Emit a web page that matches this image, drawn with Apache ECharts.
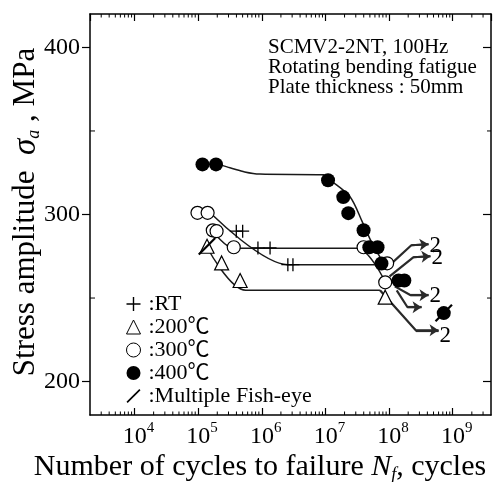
<!DOCTYPE html>
<html>
<head>
<meta charset="utf-8">
<script src="https://cdn.jsdelivr.net/npm/echarts@6/dist/echarts.min.js"></script>
<style>
  html, body { margin: 0; padding: 0; background: #fff; }
  #chart { width: 496px; height: 482px; }
</style>
</head>
<body>
<div id="chart"></div>
<script>
var FONT = "'Liberation Serif', 'Times New Roman', 'Noto Sans CJK JP', serif";

// specimens: [cycles to failure, stress amplitude MPa]
var rtPoints = [[3.98e5, 290], [5.01e5, 290], [8.71e5, 280], [1.35e6, 280], [2.57e6, 270], [3.09e6, 270]];
var t200Points = [[1.38e5, 281], [2.34e5, 271], [4.57e5, 260.5], [8.7e7, 250.5]];
var t300Points = [[9.77e4, 301], [1.41e5, 301], [1.70e5, 290.5], [1.95e5, 290], [3.63e5, 280.4],
  [3.98e7, 280.4], [9.33e7, 270.8], [8.71e7, 259.4]];
var t400Points = [[1.17e5, 330], [1.91e5, 330], [1.10e7, 320.5], [1.91e7, 310.4], [2.29e7, 300.8],
  [3.98e7, 290.6], [4.9e7, 280.4], [6.6e7, 280.4], [7.6e7, 270.7], [1.41e8, 260.5], [1.74e8, 260.5],
  [7.24e8, 241]];
var fishEyePoints = [[1.38e5, 281], [7.24e8, 241]];

// S-N curves
var rtCurve = [[1.70e5, 299.5], [2.57e6, 270], [7.2e7, 270]];
var t200Curve = [[1.38e5, 280.4], [5.6e5, 254.7], [7.2e7, 254.7]];
var t300Curve = [[1.70e5, 290], [3.63e5, 279.8], [3.16e7, 279.8], [8.1e7, 262]];
var t400Curve = [[1.17e5, 330.1], [1.91e5, 330], [3.16e5, 328], [5.4e5, 325.5], [9.3e5, 324.2],
  [9.3e6, 323.8], [1.2e7, 320.5], [2.45e7, 310.5], [3.8e7, 295.6], [5.1e7, 284.8], [6.2e7, 278.9],
  [8.1e7, 271]];

// run-out arrows and their specimen counts
var runouts = [
  { path: [[9.1e7, 267.9], [2.24e8, 281.6], [4.17e8, 282.2]], count: '2', shift: 2 },
  { path: [[1.02e8, 263], [2.4e8, 274.4], [4.47e8, 275]], count: '2', shift: 2 },
  { path: [[1.23e8, 257], [2.19e8, 251.7], [4.17e8, 251.7]], count: '2', shift: 1 },
  { path: [[1.32e8, 254.6], [1.95e8, 244.5], [3.24e8, 244.5]], count: '', shift: 0 },
  { path: [[7.2e7, 254.7], [2.63e8, 230.7], [6.0e8, 230.7]], count: '2', shift: 6 }
];

var yLabels = [200, 300, 400];
var yMinor = [250, 350];
var minorMult = [2, 3, 4, 5, 6, 7, 8, 9];
var decades = [1e3, 1e4, 1e5, 1e6, 1e7, 1e8, 1e9];
var X_MIN = 2e3, X_MAX = 4e9, Y_MIN = 180, Y_MAX = 420;

var xMinor = [];
decades.forEach(function (d) {
  minorMult.forEach(function (m) {
    var v = d * m;
    if (v > X_MIN && v < X_MAX) xMinor.push([v, Y_MIN]);
  });
});

var crossPath = 'path://M6.3,0h1.4v6.3h6.3v1.4h-6.3v6.3h-1.4v-6.3h-6.3v-1.4h6.3z';
var slashPath = 'path://M0,12.8L12.8,0L14,1.2L1.2,14Z';

var chart = echarts.init(document.getElementById('chart'));

function powLabel(v) {
  var l = Math.log(v) / Math.LN10;
  var e = Math.round(l);
  if (Math.abs(l - e) > 1e-6) return '';
  return '{p|}{b|10}{s|' + e + '}';
}

var frameLine = { show: true, lineStyle: { color: '#000', width: 1.5 } };

var series = [];

function curve(data) {
  return {
    type: 'line', data: data, symbol: 'none', smooth: 0.3, silent: true, z: 1,
    lineStyle: { color: '#1a1a1a', width: 1.5 }
  };
}
series.push(curve(rtCurve), curve(t200Curve), curve(t300Curve), curve(t400Curve));

runouts.forEach(function (r) {
  series.push({
    type: 'line', data: r.path, symbol: 'none', silent: true, z: 1,
    lineStyle: { color: '#2a2a2a', width: 2.2 },
    endLabel: {
      show: r.count !== '', formatter: r.count, distance: 1, offset: [0, r.shift],
      fontFamily: FONT, fontSize: 23, color: '#000'
    }
  });
  var n = r.path.length;
  series.push({
    type: 'lines', coordinateSystem: 'cartesian2d', silent: true, z: 1,
    symbol: ['none', 'arrow'], symbolSize: 9,
    lineStyle: { color: '#2a2a2a', width: 2.2, opacity: 1 },
    data: [{ coords: [r.path[n - 2], r.path[n - 1]] }]
  });
});

series.push({
  name: 'RT', type: 'scatter', data: rtPoints, symbol: crossPath, symbolSize: 13, z: 3,
  itemStyle: { color: '#000', opacity: 1 }
});
series.push({
  name: '200℃', type: 'scatter', data: t200Points, symbol: 'triangle', symbolSize: 14, z: 3,
  itemStyle: { color: '#fff', borderColor: '#000', borderWidth: 1.2, opacity: 1 }
});
series.push({
  name: '300℃', type: 'scatter', data: t300Points, symbol: 'circle', symbolSize: 13, z: 3,
  itemStyle: { color: '#fff', borderColor: '#000', borderWidth: 1.2, opacity: 1 }
});
series.push({
  name: '400℃', type: 'scatter', data: t400Points, symbol: 'circle', symbolSize: 14, z: 4,
  itemStyle: { color: '#000', opacity: 1 }
});
series.push({
  name: 'Multiple Fish-eye', type: 'scatter', data: fishEyePoints, symbol: slashPath, symbolSize: 18, z: 5,
  itemStyle: { color: '#000', opacity: 1 }
});

// minor ticks on the log axis (bottom and top) and on the stress axis (left and right)
series.push({
  type: 'custom', data: xMinor, silent: true, z: 6,
  renderItem: function (params, api) {
    var pb = api.coord([api.value(0), Y_MIN]);
    var pt = api.coord([api.value(0), Y_MAX]);
    var st = { stroke: '#000', lineWidth: 1 };
    return {
      type: 'group', children: [
        { type: 'line', shape: { x1: pb[0], y1: pb[1], x2: pb[0], y2: pb[1] - 3.5 }, style: st },
        { type: 'line', shape: { x1: pt[0], y1: pt[1], x2: pt[0], y2: pt[1] + 3.5 }, style: st }
      ]
    };
  }
});
series.push({
  type: 'custom', data: yMinor.map(function (v) { return [X_MIN, v]; }), silent: true, z: 6,
  renderItem: function (params, api) {
    var p = api.coord([X_MIN, api.value(1)]);
    var q = api.coord([X_MAX, api.value(1)]);
    var st = { stroke: '#000', lineWidth: 1 };
    return {
      type: 'group', children: [
        { type: 'line', shape: { x1: p[0], y1: p[1], x2: p[0] + 5, y2: p[1] }, style: st },
        { type: 'line', shape: { x1: q[0], y1: q[1], x2: q[0] - 4, y2: q[1] }, style: st }
      ]
    };
  }
});

chart.setOption({
  animation: false,
  backgroundColor: '#fff',
  grid: { left: 90, right: 5, top: 14, bottom: 67 },
  xAxis: [{
    type: 'log', logBase: 10, min: X_MIN, max: X_MAX, position: 'bottom',
    axisLine: frameLine,
    axisTick: { inside: true, length: 7, lineStyle: { color: '#000', width: 1.2 } },
    axisLabel: {
      formatter: powLabel, margin: 6, showMinLabel: false, showMaxLabel: false,
      rich: {
        p: { width: 8 },
        b: { fontFamily: FONT, fontSize: 24, color: '#000', lineHeight: 28, verticalAlign: 'bottom' },
        s: { fontFamily: FONT, fontSize: 15, color: '#000', lineHeight: 14, verticalAlign: 'top' }
      }
    },
    splitLine: { show: false }
  }, {
    type: 'log', logBase: 10, min: X_MIN, max: X_MAX, position: 'top',
    axisLine: frameLine,
    axisTick: { inside: true, length: 7, lineStyle: { color: '#000', width: 1.2 } },
    axisLabel: { show: false },
    splitLine: { show: false }
  }],
  yAxis: [{
    type: 'value', min: Y_MIN, max: Y_MAX, position: 'left',
    axisLine: frameLine,
    axisTick: { customValues: yLabels, length: 8, lineStyle: { color: '#000', width: 1.2 } },
    axisLabel: { customValues: yLabels, margin: 10, fontFamily: FONT, fontSize: 24, color: '#000' },
    splitLine: { show: false }
  }, {
    type: 'value', min: Y_MIN, max: Y_MAX, position: 'right',
    axisLine: frameLine,
    axisTick: { inside: true, customValues: yLabels, length: 8, lineStyle: { color: '#000', width: 1.2 } },
    axisLabel: { show: false },
    splitLine: { show: false }
  }],
  legend: {
    orient: 'vertical', left: 121, top: 288, itemGap: 1, itemWidth: 14, itemHeight: 14,
    selectedMode: false,
    itemStyle: { borderWidth: 1 },
    data: [
      { name: 'RT', icon: crossPath },
      { name: '200℃' },
      { name: '300℃' },
      { name: '400℃' },
      { name: 'Multiple Fish-eye', icon: slashPath, itemStyle: { borderWidth: 0 } }
    ],
    formatter: ':{name}',
    textStyle: { fontFamily: FONT, fontSize: 22, color: '#000', padding: [0, 0, 0, 3] }
  },
  graphic: [{
    type: 'text', left: 268, top: 37, silent: true,
    style: {
      text: 'SCMV2-2NT, 100Hz\nRotating bending fatigue\nPlate thickness : 50mm',
      font: '21px ' + FONT, lineHeight: 20, fill: '#000'
    }
  }, {
    type: 'text', x: 260, y: 467, silent: true,
    style: {
      text: '{t|Number of cycles to failure }{i|N}{sub|f}{t|, cycles}',
      align: 'center', verticalAlign: 'middle',
      rich: {
        t: { fontFamily: FONT, fontSize: 30, fill: '#000', lineHeight: 34 },
        i: { fontFamily: FONT, fontSize: 30, fontStyle: 'italic', fill: '#000', lineHeight: 34 },
        sub: { fontFamily: FONT, fontSize: 18, fontStyle: 'italic', fill: '#000', lineHeight: 17, verticalAlign: 'bottom' }
      }
    }
  }, {
    type: 'text', x: 26, y: 212, rotation: Math.PI / 2, silent: true,
    style: {
      text: '{t|Stress amplitude  }{i|σ}{sub|a}{t| , MPa}',
      align: 'center', verticalAlign: 'middle',
      rich: {
        t: { fontFamily: FONT, fontSize: 31, fill: '#000', lineHeight: 34 },
        i: { fontFamily: FONT, fontSize: 33, fontStyle: 'italic', fill: '#000', lineHeight: 34 },
        sub: { fontFamily: FONT, fontSize: 18, fontStyle: 'italic', fill: '#000', lineHeight: 17, verticalAlign: 'bottom' }
      }
    }
  }],
  series: series
});
</script>
</body>
</html>
